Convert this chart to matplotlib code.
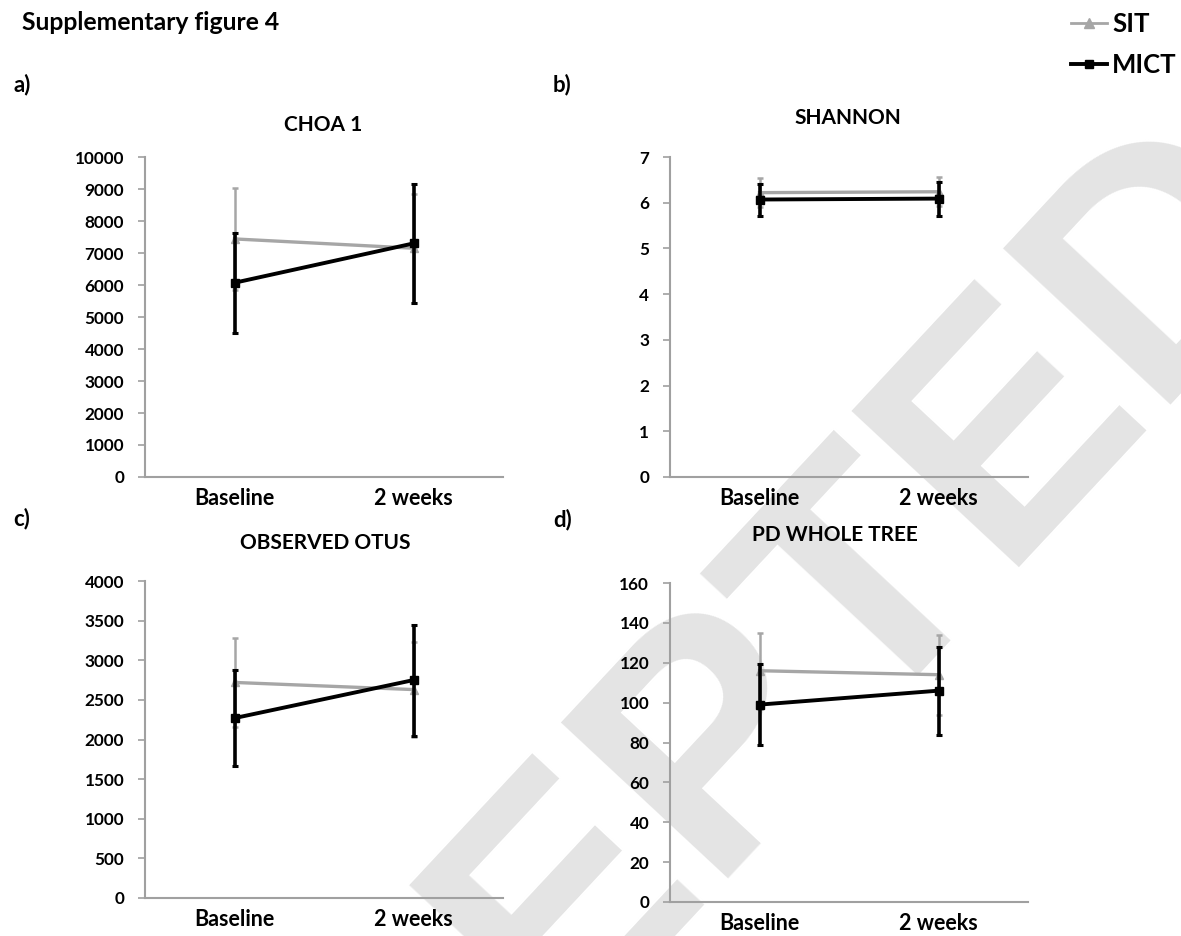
import matplotlib
matplotlib.use("Agg")
import matplotlib.pyplot as plt
from matplotlib.lines import Line2D

plt.rcParams['font.family'] = ['Lato', 'DejaVu Sans']
plt.rcParams['font.weight'] = 'bold'

timepoints = ["Baseline", "2 weeks"]
titles = ["CHOA 1", "SHANNON", "OBSERVED OTUS", "PD WHOLE TREE"]
panel_letters = ["a)", "b)", "c)", "d)"]
series_names = ["SIT", "MICT"]

sit_choa = [7440, 7150]
sit_choa_err = [1600, 1700]
mict_choa = [6070, 7300]
mict_choa_err = [1560, 1850]

sit_shannon = [6.22, 6.24]
sit_shannon_err = [0.32, 0.32]
mict_shannon = [6.07, 6.09]
mict_shannon_err = [0.35, 0.37]

sit_otus = [2720, 2630]
sit_otus_err = [560, 600]
mict_otus = [2270, 2750]
mict_otus_err = [610, 700]

sit_pd = [116, 114]
sit_pd_err = [19, 20]
mict_pd = [99, 106]
mict_pd_err = [20.5, 22]

y_max = [10000, 7, 4000, 160]
y_step = [1000, 1, 500, 20]

W, H = 1181, 936
fig = plt.figure(figsize=(W / 100, H / 100), dpi=100)

# watermark
fig.text(630 / W, 1 - 850 / H, "ACCEPTED", rotation=47, rotation_mode='anchor',
         ha='center', va='center', fontsize=240, color='#e4e4e4',
         family=['Liberation Sans', 'DejaVu Sans'], weight='bold', zorder=-5)

axes_px = [(145, 157, 503, 477), (670, 157, 1028, 477),
           (145, 581, 503, 898), (670, 583, 1028, 902)]
title_px = [(323, 125), (848, 118), (325, 543), (835, 535)]
letter_px = [(13, 85), (553, 85), (13, 519), (553, 520)]

data = [
    (sit_choa, sit_choa_err, mict_choa, mict_choa_err),
    (sit_shannon, sit_shannon_err, mict_shannon, mict_shannon_err),
    (sit_otus, sit_otus_err, mict_otus, mict_otus_err),
    (sit_pd, sit_pd_err, mict_pd, mict_pd_err),
]

SIT_C = '#a6a6a6'
AX_C = '#a0a0a0'
x = [0, 1]

for i in range(4):
    l, t, r, b = axes_px[i]
    ax = fig.add_axes([l / W, 1 - b / H, (r - l) / W, (b - t) / H])
    ax.patch.set_visible(False)
    s, se, m, me = data[i]
    ax.errorbar(x, s, yerr=se, color=SIT_C, lw=2.4, marker='^', ms=6,
                capsize=2.5, elinewidth=1.8, capthick=1.8, zorder=2)
    ax.errorbar(x, m, yerr=me, color='black', lw=2.8, marker='s', ms=6,
                capsize=2.5, elinewidth=2.6, capthick=2.2, zorder=3)
    ax.set_xlim(-0.5, 1.5)
    ax.set_ylim(0, y_max[i])
    ticks = [k * y_step[i] for k in range(int(round(y_max[i] / y_step[i])) + 1)]
    ax.set_yticks(ticks)
    ax.set_yticklabels([str(v) for v in ticks], fontsize=12.3, fontweight='bold')
    ax.set_xticks(x)
    ax.set_xticklabels(timepoints, fontsize=15.5, fontweight='bold')
    ax.tick_params(axis='x', length=0, pad=8)
    ax.tick_params(axis='y', length=5, color=AX_C, width=1.2, pad=10)
    for side in ['top', 'right']:
        ax.spines[side].set_visible(False)
    for side in ['left', 'bottom']:
        ax.spines[side].set_color(AX_C)
        ax.spines[side].set_linewidth(1.5)
    tx, ty = title_px[i]
    fig.text(tx / W, 1 - ty / H, titles[i], ha='center', va='center',
             fontsize=15, fontweight='bold')
    lx, ly = letter_px[i]
    fig.text(lx / W, 1 - ly / H, panel_letters[i], ha='left', va='center',
             fontsize=16, fontweight='bold')

fig.text(22 / W, 1 - 22 / H, "Supplementary figure 4", ha='left', va='center',
         fontsize=17.8, fontweight='bold')

handles = [Line2D([0], [0], color=SIT_C, lw=2, marker='^', ms=7,
                  markerfacecolor=SIT_C),
           Line2D([0], [0], color='black', lw=2.8, marker='s', ms=6)]
fig.legend(handles, series_names, loc='upper right', bbox_to_anchor=(1.016, 1.012),
           frameon=False, prop={'family': 'Lato', 'weight': 'bold', 'size': 18.5},
           handlelength=1.4, handletextpad=0.2, labelspacing=0.65)

fig.savefig("out.png", dpi=100)
